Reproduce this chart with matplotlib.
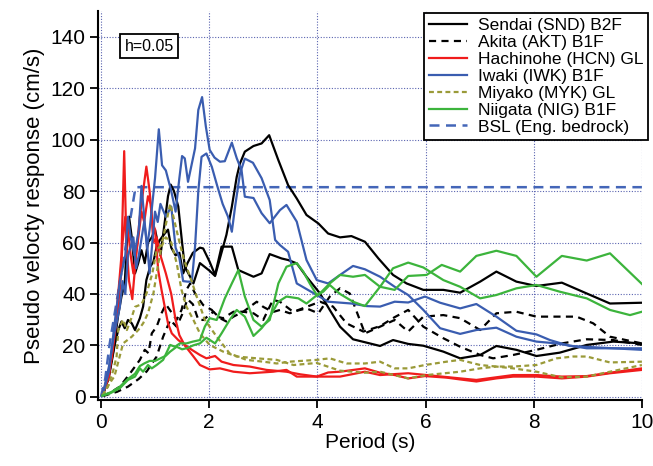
import numpy as np
import matplotlib
matplotlib.use('Agg')
import matplotlib.pyplot as plt

# Pseudo velocity response spectra (h=0.05), two components per station
snd_1_t = [0.03, 0.13, 0.23, 0.32, 0.38, 0.44, 0.48, 0.52, 0.57, 0.63, 0.69, 0.75, 0.81, 0.87, 0.94, 1.0, 1.05, 1.1, 1.18, 1.24, 1.29, 1.35, 1.43, 1.5, 1.55, 1.65, 1.71, 1.83, 2.01, 2.11, 2.32, 2.42, 2.51, 2.57, 2.66, 2.82, 2.97, 3.11, 3.28, 3.46, 3.62, 3.8, 4.02, 4.2, 4.42, 4.63, 4.88, 5.13, 5.4, 5.65, 5.96, 6.33, 6.64, 7.01, 7.31, 7.68, 8.05, 8.52, 8.98, 9.41, 10.0]
snd_1_v = [0.5, 6.6, 18, 32, 39, 44, 60, 70, 62, 48, 52, 57, 52, 60, 62, 65, 60, 55, 68, 78, 82.5, 80, 74, 60, 50.6, 46.7, 44.1, 52, 49, 47, 63, 73.9, 85.5, 90.7, 95.3, 97.5, 98.5, 101.7, 92, 82.3, 77.1, 70.7, 67.4, 63.5, 62, 62.5, 60.3, 53.8, 47.4, 44.1, 41.6, 41.6, 40.5, 44.8, 48.7, 44.8, 43.1, 44.4, 40.2, 36.3, 36.6]
snd_2_t = [0.03, 0.15, 0.26, 0.32, 0.38, 0.44, 0.5, 0.57, 0.63, 0.72, 0.78, 0.84, 0.91, 0.97, 1.03, 1.09, 1.18, 1.24, 1.3, 1.38, 1.45, 1.52, 1.6, 1.7, 1.83, 1.89, 2.01, 2.11, 2.23, 2.42, 2.54, 2.82, 2.97, 3.12, 3.34, 3.46, 3.62, 3.8, 4.05, 4.23, 4.42, 4.66, 4.91, 5.16, 5.4, 5.68, 5.96, 6.33, 6.64, 7.01, 7.31, 7.68, 8.05, 8.48, 8.98, 9.47, 10.0]
snd_2_v = [0.5, 8, 20.8, 26, 29.3, 26.7, 29.9, 28.6, 26, 30.6, 35.1, 45.4, 50.6, 52.5, 58.4, 61, 63.5, 65, 58, 55, 56, 48, 52, 56, 58, 57.7, 52.5, 47.4, 58.4, 58.4, 49.3, 46.7, 48, 55.5, 53.8, 53.2, 51.9, 46.7, 40.2, 33.8, 27.3, 22.4, 21.1, 19.8, 22.1, 20.6, 19.9, 17.6, 15, 16.3, 19.8, 18.3, 15.9, 17.2, 20.2, 21.5, 20.8]

akt_1_t = [0.03, 0.2, 0.35, 0.54, 0.72, 0.81, 0.88, 0.94, 1.03, 1.12, 1.2, 1.3, 1.4, 1.49, 1.58, 1.65, 1.74, 1.89, 2.05, 2.14, 2.26, 2.45, 2.63, 2.82, 3.0, 3.18, 3.31, 3.55, 3.8, 4.02, 4.23, 4.42, 4.6, 4.88, 5.16, 5.43, 5.68, 5.96, 6.33, 6.64, 7.01, 7.31, 7.68, 8.05, 8.48, 8.79, 9.1, 9.41, 10.0]
akt_1_v = [0.3, 2, 4, 9.2, 14.4, 18.3, 17, 24.7, 27.3, 32.5, 36, 33, 30, 33.8, 41.6, 44.1, 40.2, 35.7, 33.8, 31.2, 30.6, 33.1, 33.1, 32.5, 29.9, 37.7, 37, 33.1, 34.4, 32.5, 39, 42.2, 40.2, 24.7, 27.3, 29.9, 25.4, 31.2, 31.8, 30.6, 26, 32.5, 33.1, 31.2, 31.2, 31.2, 28.6, 23.4, 20.8]
akt_2_t = [0.03, 0.3, 0.5, 0.7, 0.85, 1.03, 1.15, 1.28, 1.4, 1.5, 1.6, 1.7, 1.8, 1.89, 2.08, 2.2, 2.32, 2.45, 2.63, 2.88, 3.0, 3.18, 3.31, 3.49, 4.05, 4.29, 4.54, 4.85, 5.16, 5.43, 5.68, 5.96, 6.33, 6.64, 7.01, 7.25, 7.62, 8.05, 8.52, 8.98, 9.47, 10.0]
akt_2_v = [0.3, 2, 4, 7, 10, 15.7, 23.4, 29.9, 27.3, 32, 38, 36, 30, 29.9, 33.1, 30.6, 29.3, 31.2, 33.1, 37, 35, 33, 33.8, 32.5, 37, 35.1, 28.6, 25.4, 27.5, 31, 33.8, 27.3, 22.8, 19.5, 16.3, 15, 16.3, 18.3, 20.8, 22.4, 22.1, 20.2]

hcn_1_t = [0.03, 0.15, 0.25, 0.32, 0.38, 0.43, 0.47, 0.52, 0.58, 0.65, 0.72, 0.78, 0.84, 0.9, 0.95, 1.0, 1.06, 1.12, 1.18, 1.24, 1.31, 1.43, 1.55, 1.68, 1.83, 1.95, 2.11, 2.23, 2.45, 2.75, 3.06, 3.43, 3.68, 3.99, 4.2, 4.42, 4.88, 5.16, 5.43, 5.68, 5.99, 6.39, 6.64, 6.94, 7.31, 7.62, 8.05, 8.52, 8.98, 9.41, 10.0]
hcn_1_v = [0.5, 8, 25, 40, 55, 95.5, 60, 45, 38, 55, 70, 80, 89.5, 80, 68, 65, 49, 41.6, 35, 28.6, 24.7, 22.1, 20.2, 18.3, 16.3, 15, 15.9, 13.7, 12.4, 11.8, 10.5, 9.8, 8.8, 7.9, 9.5, 9.8, 11.1, 9.4, 8.5, 7.2, 8.1, 7.5, 6.8, 6.0, 7.2, 7.9, 7.9, 7.2, 7.9, 9.2, 10.5]
hcn_2_t = [0.03, 0.2, 0.3, 0.35, 0.4, 0.45, 0.5, 0.55, 0.6, 0.68, 0.75, 0.8, 0.87, 0.92, 0.97, 1.03, 1.1, 1.2, 1.3, 1.38, 1.45, 1.55, 1.7, 1.83, 2.01, 2.2, 2.45, 2.75, 3.18, 3.43, 3.62, 3.99, 4.42, 4.88, 5.16, 5.68, 6.02, 6.64, 6.94, 7.62, 8.05, 8.52, 8.98, 9.41, 10.0]
hcn_2_v = [0.5, 15, 32, 42, 60, 70, 65, 55, 48, 60, 72, 68, 78, 75, 60, 62, 55, 48, 40, 30, 24, 20, 16, 12.4, 10.7, 11.1, 9.8, 9.2, 9.8, 10.5, 7.9, 7.9, 7.9, 9.8, 8.5, 9.2, 8.5, 7.2, 6.6, 8.5, 8.5, 7.9, 8.1, 9.4, 11.1]

iwk_1_t = [0.03, 0.15, 0.25, 0.35, 0.45, 0.5, 0.55, 0.62, 0.7, 0.75, 0.8, 0.85, 0.9, 0.95, 1.0, 1.07, 1.13, 1.2, 1.3, 1.38, 1.45, 1.5, 1.55, 1.61, 1.74, 1.8, 1.87, 1.94, 2.01, 2.1, 2.2, 2.29, 2.42, 2.51, 2.6, 2.66, 2.82, 2.97, 3.12, 3.31, 3.43, 3.62, 3.8, 3.99, 4.2, 4.42, 4.66, 4.88, 5.16, 5.43, 5.68, 5.96, 6.27, 6.64, 6.94, 7.31, 7.68, 8.05, 8.42, 8.98, 9.47, 10.0]
iwk_1_v = [0.5, 10, 28, 45, 55, 70, 62, 55, 65, 82, 70, 58, 65, 75, 85, 104, 90, 88, 80, 72, 85, 93.6, 92.7, 83.6, 96.6, 111.5, 116.5, 105, 96, 93, 91.4, 91.6, 98.8, 92.8, 88, 77.8, 77.3, 71.4, 67.5, 72.6, 74.6, 68.1, 53.2, 45.4, 44.1, 47.4, 50.9, 49.6, 46.7, 42.8, 39.6, 33.8, 26.7, 24.5, 26, 26.9, 23.4, 21.5, 20.8, 18.9, 18.9, 18.9]
iwk_2_t = [0.03, 0.15, 0.25, 0.35, 0.4, 0.45, 0.5, 0.6, 0.65, 0.7, 0.8, 0.85, 0.9, 0.95, 1.0, 1.05, 1.1, 1.2, 1.3, 1.38, 1.45, 1.52, 1.6, 1.68, 1.74, 1.8, 1.86, 1.95, 2.05, 2.15, 2.25, 2.35, 2.42, 2.48, 2.57, 2.66, 2.81, 2.97, 3.12, 3.22, 3.31, 3.46, 3.62, 3.99, 4.2, 4.63, 4.91, 5.16, 5.43, 5.68, 5.99, 6.27, 6.64, 6.94, 7.31, 7.68, 8.05, 8.3, 8.67, 9.47, 10.0]
iwk_2_v = [0.5, 12, 25, 35, 45, 40, 55, 62, 50, 55, 68, 60, 48, 60, 72, 68, 75, 70, 74, 58, 54, 45, 44.8, 44.8, 58.4, 80, 93.3, 94.6, 89.4, 82, 75, 70, 64.2, 73.9, 86.8, 92.6, 91, 85, 76.5, 61, 59, 56.4, 44.1, 39.6, 37, 36.3, 35.3, 35.1, 37, 36.7, 39, 36.6, 34.4, 36.1, 31.2, 25.7, 24.3, 22.1, 19.8, 18.9, 18.3]

myk_1_t = [0.03, 0.13, 0.23, 0.29, 0.32, 0.41, 0.48, 0.57, 0.63, 0.75, 0.84, 0.95, 1.03, 1.09, 1.15, 1.21, 1.28, 1.34, 1.43, 1.52, 1.58, 1.65, 1.77, 1.92, 2.14, 2.38, 2.69, 3.0, 3.25, 3.49, 3.99, 4.23, 4.54, 4.88, 5.16, 5.43, 5.68, 5.99, 6.39, 6.64, 7.01, 7.31, 7.62, 8.05, 8.42, 8.73, 8.98, 9.41, 10.0]
myk_1_v = [0.5, 4, 10.5, 15.7, 26, 30, 26, 31, 35, 36, 40, 48, 57, 58.4, 61.6, 68, 75, 70, 62, 54.5, 50.6, 46.7, 39, 30, 23.4, 16.9, 14.4, 13.7, 13, 13.7, 14.4, 15, 13, 13, 13.7, 11.1, 11.1, 12.4, 13.7, 14.4, 12.4, 11.8, 11.8, 12.4, 15, 15.7, 15.7, 13.4, 13.7]
myk_2_t = [0.03, 0.15, 0.25, 0.41, 0.57, 0.69, 0.78, 0.87, 0.97, 1.06, 1.12, 1.2, 1.3, 1.4, 1.49, 1.58, 1.71, 1.83, 2.01, 2.26, 2.51, 2.88, 3.25, 3.56, 3.99, 4.42, 4.88, 5.16, 5.68, 6.02, 6.64, 7.01, 7.31, 7.62, 8.05, 8.52, 8.98, 9.41, 10.0]
myk_2_v = [0.5, 5, 8, 20.8, 23.4, 26, 28.6, 32.5, 40.2, 51.9, 58.4, 62, 60, 52, 41.6, 35.1, 29.9, 24.7, 20.2, 17.6, 15.7, 15, 14.4, 12.4, 13.2, 10.2, 9.4, 9.8, 7.2, 8.5, 9.8, 11.1, 11.8, 11.1, 9.8, 7.6, 7.9, 9.8, 12.4]

nig_1_t = [0.03, 0.17, 0.35, 0.5, 0.63, 0.72, 0.78, 0.87, 0.94, 1.03, 1.15, 1.28, 1.37, 1.46, 1.58, 1.7, 1.83, 1.92, 2.01, 2.14, 2.29, 2.42, 2.54, 2.66, 2.82, 2.97, 3.12, 3.28, 3.43, 3.62, 3.74, 3.86, 3.99, 4.08, 4.23, 4.42, 4.66, 4.88, 5.16, 5.43, 5.68, 6.02, 6.3, 6.64, 6.94, 7.31, 7.68, 8.05, 8.52, 8.98, 9.41, 10.0]
nig_1_v = [0.5, 1.4, 3.4, 6.6, 7.9, 11.1, 9.8, 12.4, 11.1, 12.4, 14.4, 20.2, 19.5, 20.8, 20.8, 21.5, 22.1, 27.3, 30.6, 29.9, 38.3, 44.1, 49.3, 39, 29.9, 27.3, 29.9, 44.1, 50.6, 52, 48.7, 44.1, 39.6, 40.9, 44.1, 47.4, 46.7, 47.4, 42.8, 41.6, 47, 47.4, 51.3, 48.7, 54.8, 56.8, 54.8, 46.7, 54.8, 53, 55.8, 43.9]
nig_2_t = [0.03, 0.2, 0.35, 0.5, 0.63, 0.72, 0.8, 0.9, 1.0, 1.1, 1.2, 1.28, 1.4, 1.5, 1.6, 1.7, 1.83, 1.95, 2.11, 2.23, 2.38, 2.51, 2.66, 2.82, 2.97, 3.09, 3.28, 3.43, 3.65, 3.8, 3.96, 4.11, 4.23, 4.42, 4.66, 4.88, 5.16, 5.4, 5.68, 5.96, 6.33, 6.64, 7.01, 7.31, 7.68, 8.05, 8.48, 8.98, 9.41, 9.78, 10.0]
nig_2_v = [0.5, 2, 4, 7, 9, 12, 13, 14, 14, 15, 16, 17.6, 19.5, 18.5, 19, 20, 20.8, 23, 20.8, 24.7, 29.9, 33.8, 31.2, 23.7, 26.7, 29.9, 37, 39, 38.3, 36.3, 39, 40.9, 43.5, 40, 37, 35.3, 42.8, 50, 52.2, 50.3, 45.4, 42.8, 38.3, 39.6, 42.2, 43.5, 40.9, 38.3, 33.8, 31.8, 33.1]

bsl_t = [0.0, 0.08, 0.16, 0.64, 10.0]
bsl_v = [0.0, 7.1, 20.4, 81.5, 81.5]

names = ['Sendai (SND) B2F', 'Akita (AKT) B1F', 'Hachinohe (HCN) GL', 'Iwaki (IWK) B1F',
         'Miyako (MYK) GL', 'Niigata (NIG) B1F', 'BSL (Eng. bedrock)']

plt.rcParams['font.family'] = ['Liberation Sans', 'DejaVu Sans']

fig = plt.figure(figsize=(6.53, 4.66), dpi=100)
ax = fig.add_axes([0.150, 0.1416, 0.833, 0.835])

lw = 1.6
dash_akt = (0, (3.2, 2.4))
dash_myk = (0, (2.2, 1.5))
dash_bsl = (0, (4.0, 2.6))

styles = [
    ('black', '-', [(snd_1_t, snd_1_v), (snd_2_t, snd_2_v)]),
    ('black', dash_akt, [(akt_1_t, akt_1_v), (akt_2_t, akt_2_v)]),
    ('#f01c1c', '-', [(hcn_1_t, hcn_1_v), (hcn_2_t, hcn_2_v)]),
    ('#3a5db0', '-', [(iwk_1_t, iwk_1_v), (iwk_2_t, iwk_2_v)]),
    ('#9a9a38', dash_myk, [(myk_1_t, myk_1_v), (myk_2_t, myk_2_v)]),
    ('#3cb43c', '-', [(nig_1_t, nig_1_v), (nig_2_t, nig_2_v)]),
]

handles = []
for color, ls, curves in styles:
    for i, (t, v) in enumerate(curves):
        line, = ax.plot(t, v, color=color, linestyle=ls, linewidth=lw, zorder=3)
        if i == 0:
            handles.append(line)

bsl_line, = ax.plot(bsl_t, bsl_v, color='#4466b8', linestyle=dash_bsl, linewidth=1.8, zorder=2)
handles.append(bsl_line)

ax.set_xlim(-0.055, 10)
ax.set_ylim(-1.2, 150)
ax.set_xticks(np.arange(0, 11, 2))
ax.set_yticks(np.arange(0, 141, 20))
ax.grid(True, color='#5a64b0', linestyle=(0, (1, 1.5)), linewidth=0.8)
ax.set_axisbelow(True)

for side in ['top', 'right']:
    ax.spines[side].set_visible(False)
for side in ['left', 'bottom']:
    ax.spines[side].set_linewidth(1.5)
ax.tick_params(direction='out', length=6, width=1.3, labelsize=15, pad=3)

ax.set_xlabel('Period (s)', fontsize=15, labelpad=1)
ax.set_ylabel('Pseudo velocty response (cm/s)', fontsize=16, labelpad=4)

ax.text(0.89, 136.3, 'h=0.05', fontsize=11.5, ha='center', va='center',
        bbox=dict(boxstyle='square,pad=0.3', facecolor='white', edgecolor='black', linewidth=1.3))

leg = ax.legend(handles, names, loc='upper right', bbox_to_anchor=(1.012, 0.995),
                fontsize=12.5, labelspacing=0.1, handlelength=2.2, handletextpad=0.6,
                borderpad=0.3, borderaxespad=0.0, fancybox=False, framealpha=1.0)
leg.get_frame().set_edgecolor('black')
leg.get_frame().set_linewidth(1.3)

fig.savefig('out.png', dpi=100)
